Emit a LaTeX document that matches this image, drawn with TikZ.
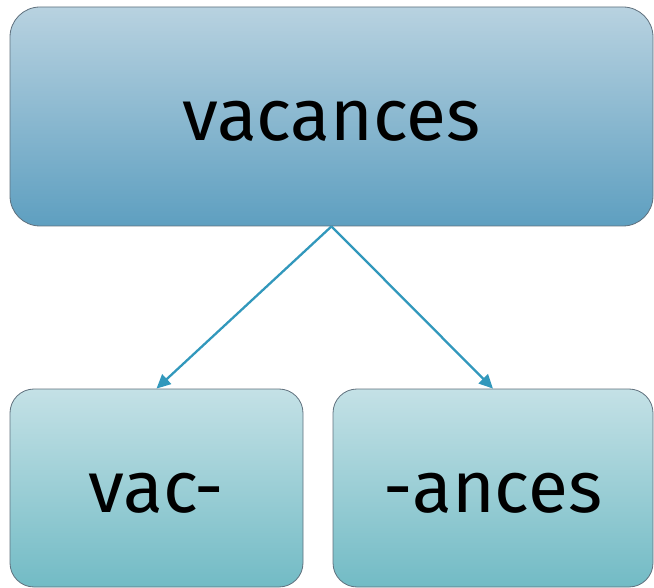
\documentclass[tikz,border=0pt]{standalone}
\usepackage{fontspec}
\setmainfont{Fira Sans}
\usetikzlibrary{arrows.meta}
\definecolor{topA}{RGB}{184,210,224}
\definecolor{topB}{RGB}{94,159,192}
\definecolor{botA}{RGB}{196,225,230}
\definecolor{botB}{RGB}{114,187,197}
\definecolor{edgec}{RGB}{95,112,125}
\definecolor{arrc}{RGB}{50,152,188}
\tikzset{
  boxbase/.style={draw=edgec, line width=0.8pt, inner sep=0pt, anchor=center,
    font=\fontsize{73}{78}\selectfont, text=black, text height=49pt, text depth=0pt},
  topbox/.style={boxbase, rounded corners=30pt, top color=topA, bottom color=topB},
  botbox/.style={boxbase, rounded corners=24pt, top color=botA, bottom color=botB},
  conn/.style={draw=arrc, line width=2.3pt, -{Triangle[length=14pt,width=13pt]}}
}
\begin{document}
\begin{tikzpicture}[x=1pt,y=-1pt]
\useasboundingbox (0,0) rectangle (654,588);
\node[topbox, minimum width=643pt, minimum height=219pt] (top) at (331.5,116.5) {vacances};
\node[botbox, minimum width=293pt, minimum height=198pt] (left) at (156.5,488) {vac-};
\node[botbox, minimum width=320pt, minimum height=198pt] (right) at (493,488) {-ances};
\draw[conn] (top.south) -- (left.north);
\draw[conn] (top.south) -- (right.north);
\end{tikzpicture}
\end{document}
